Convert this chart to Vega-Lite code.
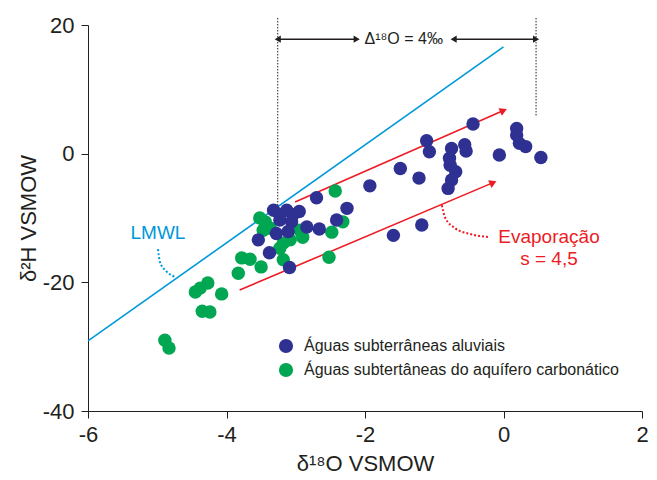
{
  "$schema": "https://vega.github.io/schema/vega-lite/v6.json",
  "width": 554,
  "height": 386,
  "autosize": {"type": "none"},
  "padding": {"left": 88, "top": 25, "right": 15, "bottom": 69},
  "background": "white",
  "config": {
    "view": {"stroke": null},
    "font": "Liberation Sans",
    "axis": {
      "grid": false,
      "domainColor": "#231f20",
      "tickColor": "#231f20",
      "labelColor": "#231f20",
      "titleColor": "#231f20",
      "labelFontSize": 22,
      "titleFontSize": 22,
      "titleFontWeight": "normal",
      "tickSize": 7,
      "labelFlush": false,
      "labelOverlap": false,
      "labelExpr": "'' + datum.value"
    }
  },
  "datasets": {
    "pts": [
      {"x": -4.89, "y": -29.0, "g": "Águas subtertâneas do aquífero carbonático"},
      {"x": -4.83, "y": -30.2, "g": "Águas subtertâneas do aquífero carbonático"},
      {"x": -4.45, "y": -21.5, "g": "Águas subtertâneas do aquífero carbonático"},
      {"x": -4.38, "y": -20.9, "g": "Águas subtertâneas do aquífero carbonático"},
      {"x": -4.27, "y": -20.1, "g": "Águas subtertâneas do aquífero carbonático"},
      {"x": -4.07, "y": -21.8, "g": "Águas subtertâneas do aquífero carbonático"},
      {"x": -4.35, "y": -24.5, "g": "Águas subtertâneas do aquífero carbonático"},
      {"x": -4.24, "y": -24.6, "g": "Águas subtertâneas do aquífero carbonático"},
      {"x": -3.83, "y": -18.6, "g": "Águas subtertâneas do aquífero carbonático"},
      {"x": -3.78, "y": -16.2, "g": "Águas subtertâneas do aquífero carbonático"},
      {"x": -3.66, "y": -16.4, "g": "Águas subtertâneas do aquífero carbonático"},
      {"x": -3.50, "y": -17.6, "g": "Águas subtertâneas do aquífero carbonático"},
      {"x": -3.18, "y": -16.5, "g": "Águas subtertâneas do aquífero carbonático"},
      {"x": -2.52, "y": -16.1, "g": "Águas subtertâneas do aquífero carbonático"},
      {"x": -3.44, "y": -10.6, "g": "Águas subtertâneas do aquífero carbonático"},
      {"x": -3.52, "y": -10.0, "g": "Águas subtertâneas do aquífero carbonático"},
      {"x": -3.47, "y": -11.9, "g": "Águas subtertâneas do aquífero carbonático"},
      {"x": -2.90, "y": -13.0, "g": "Águas subtertâneas do aquífero carbonático"},
      {"x": -3.18, "y": -13.9, "g": "Águas subtertâneas do aquífero carbonático"},
      {"x": -3.23, "y": -14.7, "g": "Águas subtertâneas do aquífero carbonático"},
      {"x": -2.48, "y": -12.2, "g": "Águas subtertâneas do aquífero carbonático"},
      {"x": -2.32, "y": -10.6, "g": "Águas subtertâneas do aquífero carbonático"},
      {"x": -2.43, "y": -5.8, "g": "Águas subtertâneas do aquífero carbonático"},
      {"x": -3.08, "y": -13.4, "g": "Águas subtertâneas do aquífero carbonático"},
      {"x": -2.94, "y": -11.9, "g": "Águas subtertâneas do aquífero carbonático"},
      {"x": -3.37, "y": -11.6, "g": "Águas subtertâneas do aquífero carbonático"},
      {"x": -2.70, "y": -6.86, "g": "Águas subterrâneas aluviais"},
      {"x": -2.26, "y": -8.5, "g": "Águas subterrâneas aluviais"},
      {"x": -2.41, "y": -10.3, "g": "Águas subterrâneas aluviais"},
      {"x": -3.32, "y": -8.8, "g": "Águas subterrâneas aluviais"},
      {"x": -3.13, "y": -8.8, "g": "Águas subterrâneas aluviais"},
      {"x": -2.95, "y": -9.0, "g": "Águas subterrâneas aluviais"},
      {"x": -3.23, "y": -9.5, "g": "Águas subterrâneas aluviais"},
      {"x": -3.04, "y": -9.5, "g": "Águas subterrâneas aluviais"},
      {"x": -3.23, "y": -10.3, "g": "Águas subterrâneas aluviais"},
      {"x": -3.06, "y": -10.6, "g": "Águas subterrâneas aluviais"},
      {"x": -2.84, "y": -11.4, "g": "Águas subterrâneas aluviais"},
      {"x": -2.66, "y": -11.7, "g": "Águas subterrâneas aluviais"},
      {"x": -3.28, "y": -12.4, "g": "Águas subterrâneas aluviais"},
      {"x": -3.11, "y": -12.1, "g": "Águas subterrâneas aluviais"},
      {"x": -3.54, "y": -13.4, "g": "Águas subterrâneas aluviais"},
      {"x": -3.38, "y": -15.4, "g": "Águas subterrâneas aluviais"},
      {"x": -3.09, "y": -17.7, "g": "Águas subterrâneas aluviais"},
      {"x": -1.93, "y": -5.0, "g": "Águas subterrâneas aluviais"},
      {"x": -1.11, "y": 2.0, "g": "Águas subterrâneas aluviais"},
      {"x": -1.07, "y": 0.3, "g": "Águas subterrâneas aluviais"},
      {"x": -0.44, "y": 4.6, "g": "Águas subterrâneas aluviais"},
      {"x": -0.75, "y": 0.8, "g": "Águas subterrâneas aluviais"},
      {"x": -0.56, "y": 1.4, "g": "Águas subterrâneas aluviais"},
      {"x": -0.54, "y": 0.4, "g": "Águas subterrâneas aluviais"},
      {"x": -0.78, "y": -0.7, "g": "Águas subterrâneas aluviais"},
      {"x": -0.77, "y": -1.8, "g": "Águas subterrâneas aluviais"},
      {"x": -0.69, "y": -2.8, "g": "Águas subterrâneas aluviais"},
      {"x": -0.75, "y": -4.1, "g": "Águas subterrâneas aluviais"},
      {"x": -0.80, "y": -5.4, "g": "Águas subterrâneas aluviais"},
      {"x": -1.49, "y": -2.3, "g": "Águas subterrâneas aluviais"},
      {"x": -1.22, "y": -3.8, "g": "Águas subterrâneas aluviais"},
      {"x": -0.06, "y": -0.2, "g": "Águas subterrâneas aluviais"},
      {"x": 0.19, "y": 3.9, "g": "Águas subterrâneas aluviais"},
      {"x": 0.19, "y": 2.9, "g": "Águas subterrâneas aluviais"},
      {"x": 0.23, "y": 1.6, "g": "Águas subterrâneas aluviais"},
      {"x": 0.32, "y": 1.1, "g": "Águas subterrâneas aluviais"},
      {"x": 0.54, "y": -0.6, "g": "Águas subterrâneas aluviais"},
      {"x": -1.18, "y": -11.1, "g": "Águas subterrâneas aluviais"},
      {"x": -1.59, "y": -12.7, "g": "Águas subterrâneas aluviais"}
    ],
    "lmwl": [{"x": -6, "y": -29.1}, {"x": 0, "y": 16.6}],
    "redArrows": [
      {"id": "a", "x": -3.01, "y": -7.5},
      {"id": "a", "x": 0.0, "y": 6.7},
      {"id": "b", "x": -3.81, "y": -21.2},
      {"id": "b", "x": -0.15, "y": -4.5}
    ],
    "redHeads": [{"x": 0.0, "y": 6.7}, {"x": -0.15, "y": -4.5}],
    "lmwlLeader": [
      {"x": -4.99, "y": -14.84},
      {"x": -4.96, "y": -16.86},
      {"x": -4.87, "y": -18.26},
      {"x": -4.73, "y": -19.19}
    ],
    "evapLeader": [
      {"x": -0.89, "y": -8.0},
      {"x": -0.84, "y": -10.0},
      {"x": -0.70, "y": -11.57},
      {"x": -0.48, "y": -12.5},
      {"x": -0.2, "y": -12.97}
    ],
    "vlines": [
      {"x": -3.26, "y": 21.1, "y2": -8.0},
      {"x": 0.47, "y": 21.1, "y2": 5.7}
    ],
    "hlines": [
      {"x": -3.26, "x2": -2.12, "y": 17.8},
      {"x": -0.72, "x2": 0.47, "y": 17.8}
    ],
    "deltaLabel": [
      {"x": -1.44, "y": 17.8, "t": "Δ¹⁸O = 4‰"}
    ],
    "labels": [
      {"x": -4.99, "y": -12.33, "t": "LMWL", "c": "lmwl"},
      {"x": 0.657, "y": -12.9, "t": "Evaporação", "c": "red"},
      {"x": 0.657, "y": -16.3, "t": "s = 4,5", "c": "red"}
    ]
  },
  "encoding": {
    "x": {"type": "quantitative", "field": "x", "scale": {"domain": [-6, 2], "nice": false, "zero": false},
      "axis": {"values": [-6, -4, -2, 0, 2], "title": "δ¹⁸O VSMOW", "labelPadding": 6, "titlePadding": 8}},
    "y": {"type": "quantitative", "field": "y", "scale": {"domain": [-40, 20], "nice": false, "zero": false},
      "axis": {"values": [-40, -20, 0, 20], "title": "δ²H VSMOW", "labelPadding": 7, "titlePadding": 2}}
  },
  "layer": [
    {"data": {"name": "lmwl"}, "mark": {"type": "line", "color": "#0098da", "strokeWidth": 1.6}},
    {"data": {"name": "lmwlLeader"}, "mark": {"type": "line", "color": "#0098da", "strokeWidth": 2, "strokeDash": [2, 2], "interpolate": "monotone"}},
    {"data": {"name": "evapLeader"}, "mark": {"type": "line", "color": "#ed1c24", "strokeWidth": 2, "strokeDash": [2, 2], "interpolate": "monotone"}},
    {"data": {"name": "vlines"}, "mark": {"type": "rule", "color": "#231f20", "strokeWidth": 1, "strokeDash": [1.5, 1.5], "clip": false},
      "encoding": {"y2": {"field": "y2"}}},
    {"data": {"name": "hlines"}, "mark": {"type": "rule", "color": "#231f20", "strokeWidth": 1.5},
      "encoding": {"x2": {"field": "x2"}}},
    {"data": {"name": "hlines"}, "mark": {"type": "point", "shape": "triangle-left", "filled": true, "color": "#231f20", "size": 50, "opacity": 1},
      "encoding": {"x": {"field": "x", "type": "quantitative"}}},
    {"data": {"name": "hlines"}, "mark": {"type": "point", "shape": "triangle-right", "filled": true, "color": "#231f20", "size": 50, "opacity": 1},
      "encoding": {"x": {"field": "x2", "type": "quantitative"}}},
    {"data": {"name": "redArrows"}, "mark": {"type": "line", "color": "#ed1c24", "strokeWidth": 1.6},
      "encoding": {"detail": {"field": "id"}}},
    {"data": {"name": "redHeads"}, "mark": {"type": "point", "shape": "triangle-right", "filled": true, "color": "#ed1c24", "size": 70, "angle": -24, "opacity": 1}},
    {"data": {"name": "pts"}, "mark": {"type": "point", "filled": true, "shape": "circle", "size": 180, "opacity": 1, "strokeWidth": 0},
      "encoding": {"color": {"field": "g", "type": "nominal",
        "scale": {"domain": ["Águas subterrâneas aluviais", "Águas subtertâneas do aquífero carbonático"], "range": ["#2e3192", "#00a651"]},
        "legend": {"title": null, "orient": "none", "legendX": 190, "legendY": 313, "symbolSize": 200, "symbolType": "circle",
          "labelFontSize": 16, "labelColor": "#231f20", "labelOffset": 10, "rowPadding": 8, "labelLimit": 400, "symbolStrokeWidth": 0, "symbolOpacity": 1}}}},
    {"data": {"name": "deltaLabel"}, "mark": {"type": "text", "fontSize": 16, "align": "center", "baseline": "middle", "color": "#231f20"},
      "encoding": {"text": {"field": "t"}}},
    {"data": {"name": "labels"}, "mark": {"type": "text", "fontSize": 19, "align": "center", "baseline": "middle"},
      "encoding": {"text": {"field": "t"},
        "color": {"field": "c", "type": "nominal", "scale": {"domain": ["lmwl", "red"], "range": ["#0098da", "#ed1c24"]}, "legend": null}}}
  ],
  "resolve": {"scale": {"color": "independent"}}
}
